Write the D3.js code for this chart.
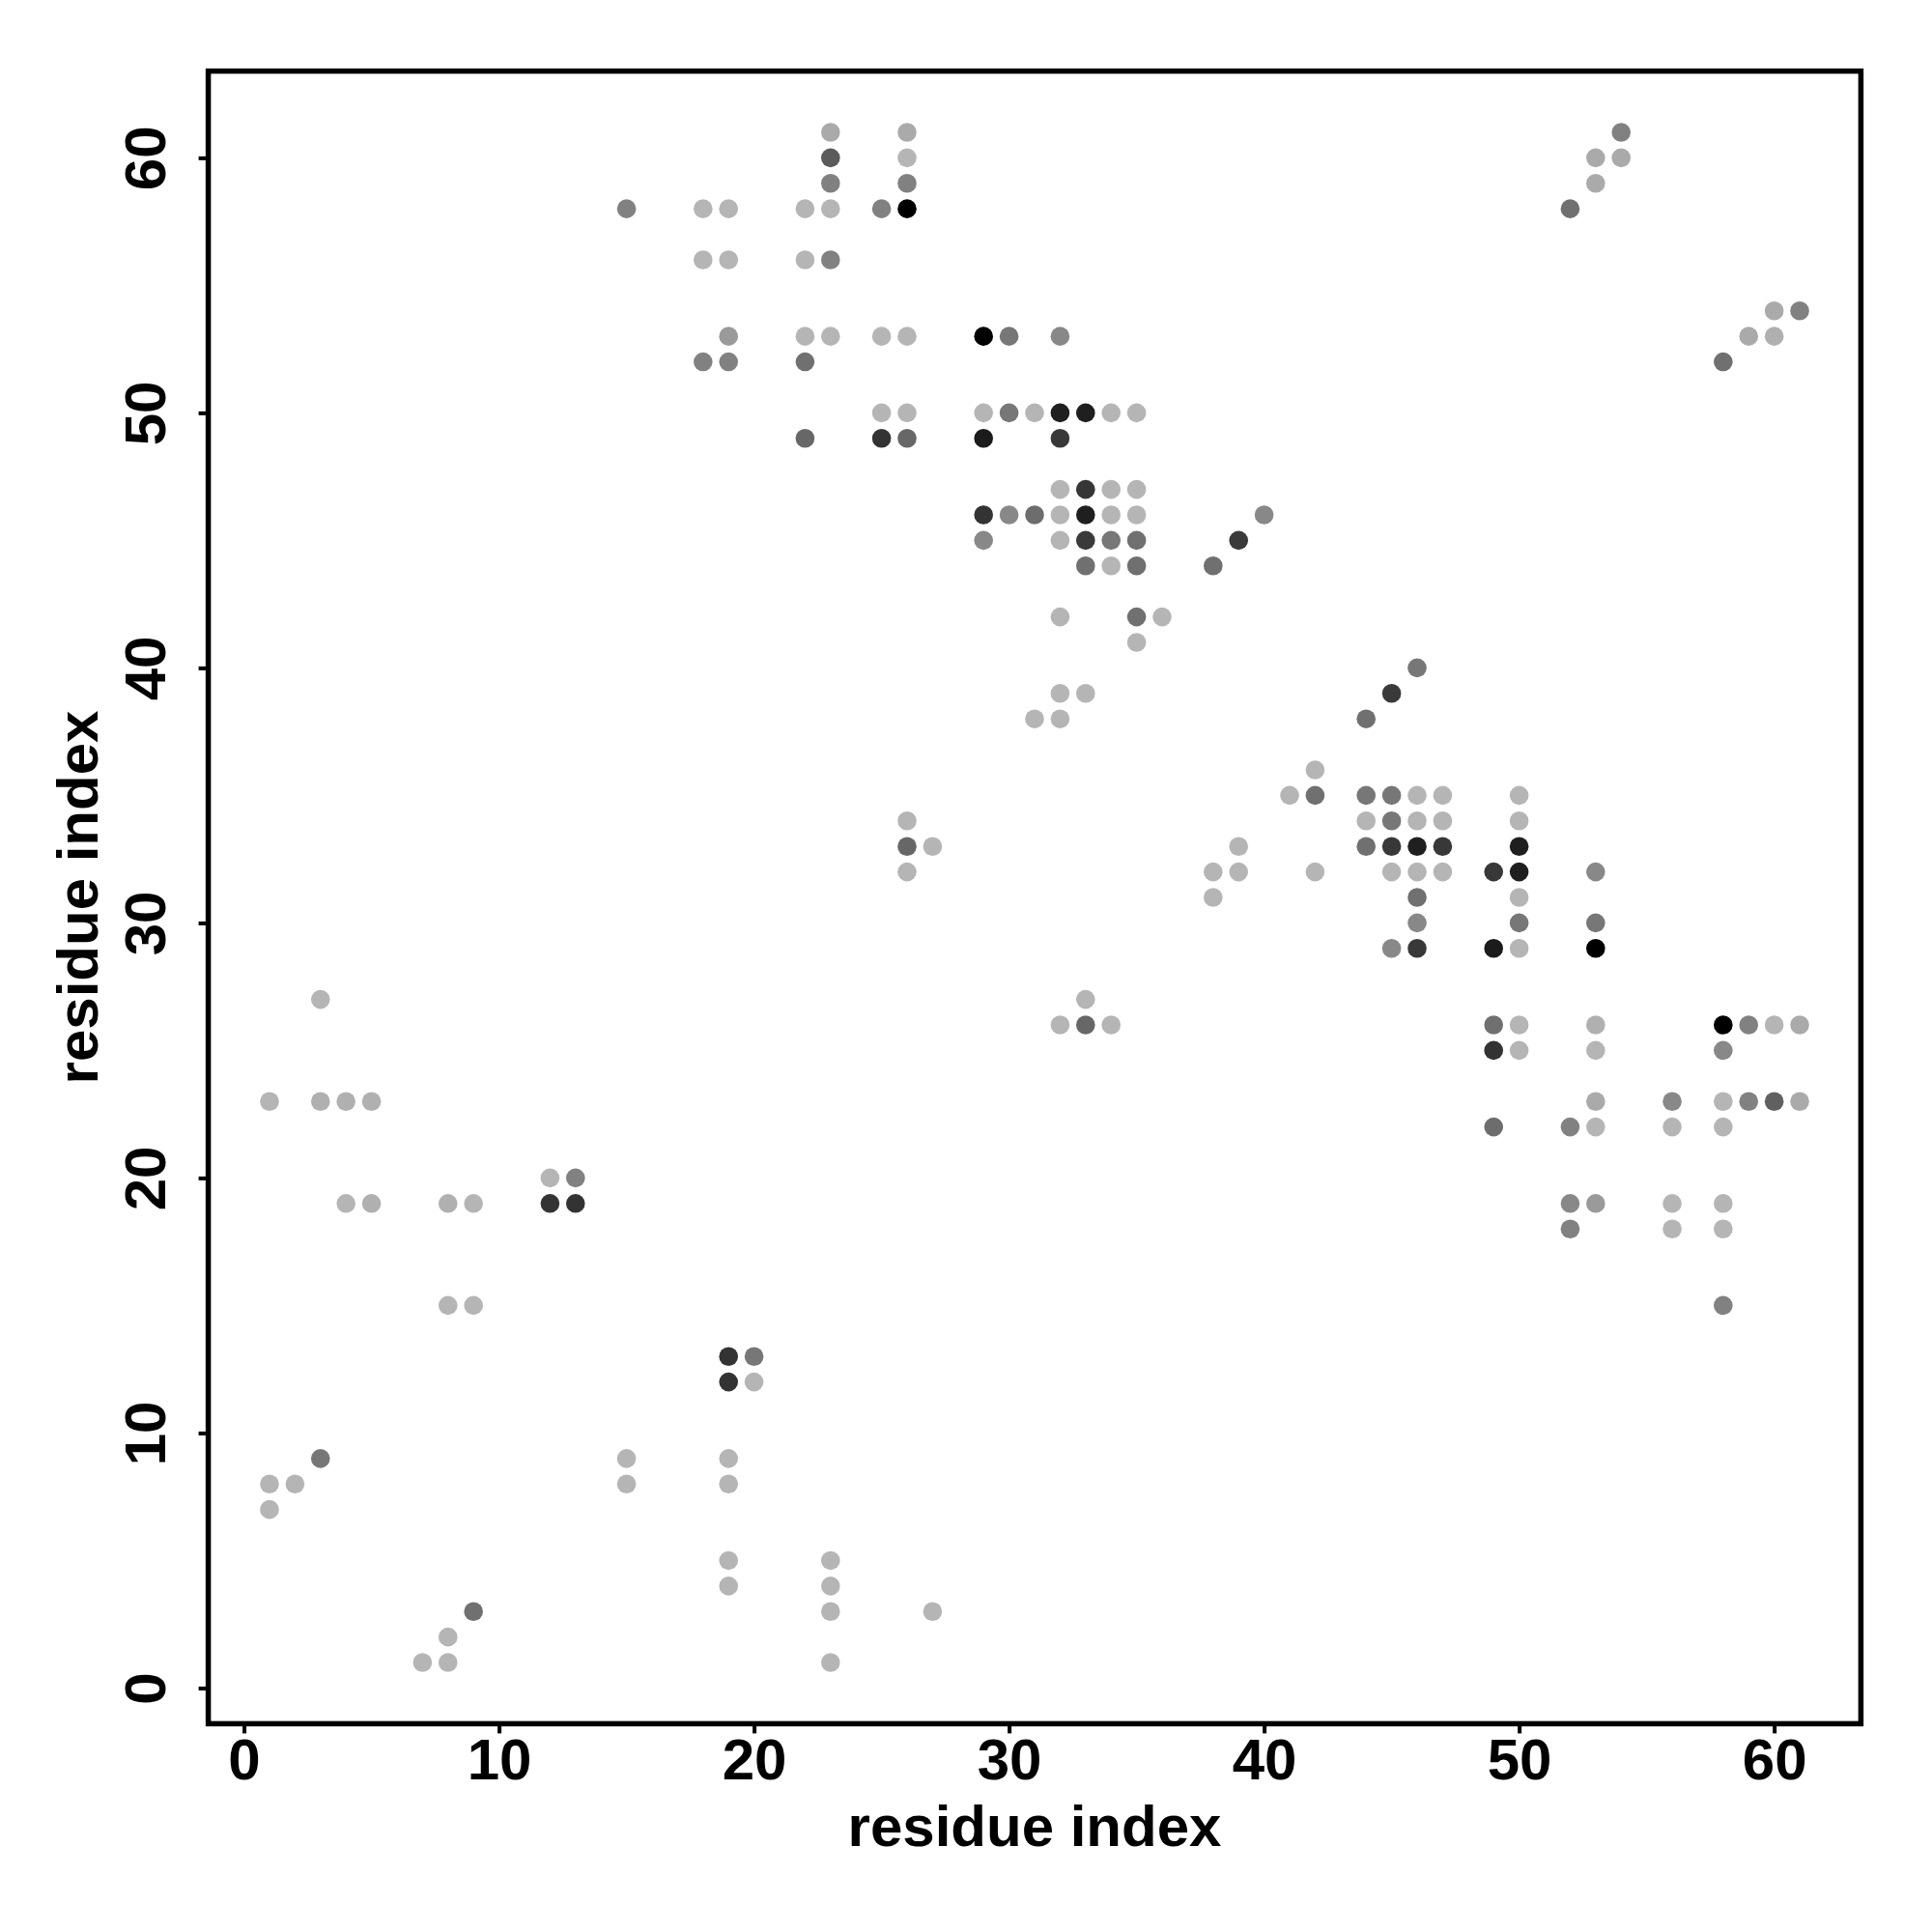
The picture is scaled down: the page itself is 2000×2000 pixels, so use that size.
<!DOCTYPE html>
<html>
<head>
<meta charset="utf-8">
<script src="https://cdn.jsdelivr.net/npm/d3@7"></script>
<style>
  html, body { margin: 0; padding: 0; background: #fff; }
  svg { display: block; }
  text { font-family: "Liberation Sans", Arial, Helvetica, sans-serif; font-weight: bold; fill: #000; }
</style>
</head>
<body>
<svg id="chart" width="2000" height="2000"></svg>
<script>
// residue i (x), residue j (y), contact score (0 = weakest/light, 1 = strongest/black)
const resI = [
  23, 26, 54,
  23, 26, 53, 54,
  23, 26, 53,
  15, 18, 19, 22, 23, 25, 26, 52,
  18, 19, 22, 23,
  60, 61,
  19, 22, 23, 25, 26, 29, 30, 32, 59, 60,
  18, 19, 22, 58,
  25, 26, 29, 30, 31, 32, 33, 34, 35,
  22, 25, 26, 29, 32,
  32, 33, 34, 35,
  29, 30, 31, 32, 33, 34, 35, 40,
  29, 32, 33, 34, 35, 39,
  33, 34, 35, 38,
  32, 35, 36,
  35,
  46,
  32, 33, 45,
  31, 32, 44,
  42,
  41, 42, 44, 45, 46, 47, 50,
  26, 44, 45, 46, 47, 50,
  26, 27, 39, 44, 45, 46, 47, 50,
  26, 38, 39, 42, 45, 46, 47, 49, 50, 53,
  38, 46, 50,
  46, 50, 53,
  45, 46, 49, 50, 53,
  3, 33,
  32, 33, 34, 49, 50, 53, 58, 59, 60, 61,
  49, 50, 53, 58,
  1, 3, 4, 5, 53, 56, 58, 59, 60, 61,
  49, 52, 53, 56, 58,
  12, 13,
  4, 5, 8, 9, 12, 13, 52, 53, 56, 58,
  52, 56, 58,
  8, 9, 58,
  19, 20,
  19, 20,
  3, 15, 19,
  1, 2, 15, 19,
  1,
  19, 23,
  19, 23,
  9, 23, 27,
  8,
  7, 8, 23
];
const resJ = [
  61, 61, 61,
  60, 60, 60, 60,
  59, 59, 59,
  58, 58, 58, 58, 58, 58, 58, 58,
  56, 56, 56, 56,
  54, 54,
  53, 53, 53, 53, 53, 53, 53, 53, 53, 53,
  52, 52, 52, 52,
  50, 50, 50, 50, 50, 50, 50, 50, 50,
  49, 49, 49, 49, 49,
  47, 47, 47, 47,
  46, 46, 46, 46, 46, 46, 46, 46,
  45, 45, 45, 45, 45, 45,
  44, 44, 44, 44,
  42, 42, 42,
  41,
  40,
  39, 39, 39,
  38, 38, 38,
  36,
  35, 35, 35, 35, 35, 35, 35,
  34, 34, 34, 34, 34, 34,
  33, 33, 33, 33, 33, 33, 33, 33,
  32, 32, 32, 32, 32, 32, 32, 32, 32, 32,
  31, 31, 31,
  30, 30, 30,
  29, 29, 29, 29, 29,
  27, 27,
  26, 26, 26, 26, 26, 26, 26, 26, 26, 26,
  25, 25, 25, 25,
  23, 23, 23, 23, 23, 23, 23, 23, 23, 23,
  22, 22, 22, 22, 22,
  20, 20,
  19, 19, 19, 19, 19, 19, 19, 19, 19, 19,
  18, 18, 18,
  15, 15, 15,
  13, 13,
  12, 12,
  9, 9, 9,
  8, 8, 8, 8,
  7,
  5, 5,
  4, 4,
  3, 3, 3,
  2,
  1, 1, 1
];
const score = [
  0.06, 0.06, 0.29,
  0.50, 0.00, 0.06, 0.06,
  0.29, 0.29, 0.06,
  0.29, 0.00, 0.00, 0.00, 0.00, 0.29, 1.00, 0.38,
  0.00, 0.00, 0.00, 0.29,
  0.06, 0.29,
  0.15, 0.00, 0.00, 0.00, 0.00, 1.00, 0.34, 0.25, 0.06, 0.03,
  0.29, 0.29, 0.38, 0.38,
  0.00, 0.00, 0.00, 0.34, 0.00, 0.83, 0.83, 0.00, 0.00,
  0.43, 0.72, 0.43, 0.85, 0.69,
  0.00, 0.70, 0.00, 0.00,
  0.72, 0.25, 0.40, 0.00, 0.83, 0.00, 0.00, 0.25,
  0.25, 0.00, 0.68, 0.34, 0.38, 0.68,
  0.38, 0.00, 0.38, 0.38,
  0.00, 0.38, 0.00,
  0.00,
  0.34,
  0.00, 0.00, 0.68,
  0.00, 0.00, 0.38,
  0.00,
  0.00, 0.38, 0.34, 0.34, 0.00, 0.00, 0.00,
  0.00, 0.00, 0.34, 0.00, 0.00, 0.00,
  0.43, 0.00, 0.00, 0.38, 0.69, 0.83, 0.69, 0.83,
  0.00, 0.00, 0.00, 0.00, 0.00, 0.00, 0.00, 0.69, 0.83, 0.25,
  0.00, 0.38, 0.00,
  0.25, 0.34, 0.34,
  0.25, 0.69, 0.85, 0.00, 1.00,
  0.00, 0.00,
  0.00, 0.43, 0.00, 0.38, 0.00, 0.03, 1.00, 0.29, 0.00, 0.06,
  0.72, 0.00, 0.00, 0.25,
  0.00, 0.03, 0.03, 0.03, 0.06, 0.25, 0.00, 0.29, 0.47, 0.06,
  0.40, 0.29, 0.00, 0.00, 0.00,
  0.00, 0.29,
  0.00, 0.03, 0.03, 0.00, 0.72, 0.72, 0.25, 0.15, 0.00, 0.00,
  0.29, 0.00, 0.00,
  0.00, 0.00, 0.29,
  0.72, 0.34,
  0.72, 0.00,
  0.34, 0.00, 0.00,
  0.00, 0.00, 0.00, 0.00,
  0.00,
  0.00, 0.00,
  0.00, 0.00,
  0.38, 0.00, 0.00,
  0.00,
  0.00, 0.00, 0.00
];
const tickValues = [0, 10, 20, 30, 40, 50, 60];
const xTitle = "residue index";
const yTitle = "residue index";

const data = resI.map((d, k) => ({ i: d, j: resJ[k], s: score[k] }));

const svg = d3.select("#chart");
const x = d3.scaleLinear().domain([-1.4, 63.4]).range([215.6, 1926.4]);
const y = d3.scaleLinear().domain([-1.4, 63.4]).range([1784.4, 73.6]);
const shade = d3.scaleLinear().domain([0, 1]).range(["#b5b5b5", "#000000"]);

// points
svg.append("g").selectAll("circle").data(data).join("circle")
  .attr("cx", d => x(d.i))
  .attr("cy", d => y(d.j))
  .attr("r", 9.8)
  .attr("fill", d => shade(d.s));

// frame
svg.append("rect")
  .attr("x", x.range()[0]).attr("y", y.range()[1])
  .attr("width", x.range()[1] - x.range()[0])
  .attr("height", y.range()[0] - y.range()[1])
  .attr("fill", "none").attr("stroke", "#000").attr("stroke-width", 5.5);

// x axis
const gx = svg.append("g")
  .attr("transform", `translate(0,${y.range()[0]})`)
  .call(d3.axisBottom(x).tickValues(tickValues).tickSize(10).tickPadding(5));
gx.select(".domain").remove();
gx.selectAll(".tick line").attr("stroke", "#000").attr("stroke-width", 4);
gx.selectAll(".tick text")
  .attr("font-size", 60).attr("font-family", null).attr("fill", "#000");

// y axis
const gy = svg.append("g")
  .attr("transform", `translate(${x.range()[0]},0)`)
  .call(d3.axisLeft(y).tickValues(tickValues).tickSize(10));
gy.select(".domain").remove();
gy.selectAll(".tick line").attr("stroke", "#000").attr("stroke-width", 4);
gy.selectAll(".tick text")
  .attr("x", null).attr("dy", null)
  .attr("text-anchor", "middle")
  .attr("transform", "translate(-45,0) rotate(-90)")
  .attr("font-size", 60).attr("font-family", null).attr("fill", "#000");

// titles
svg.append("text")
  .attr("x", (x.range()[0] + x.range()[1]) / 2)
  .attr("y", 1911)
  .attr("text-anchor", "middle")
  .attr("font-size", 60)
  .text(xTitle);
svg.append("text")
  .attr("transform", `translate(101,${(y.range()[0] + y.range()[1]) / 2}) rotate(-90)`)
  .attr("text-anchor", "middle")
  .attr("font-size", 60)
  .text(yTitle);
</script>
</body>
</html>
